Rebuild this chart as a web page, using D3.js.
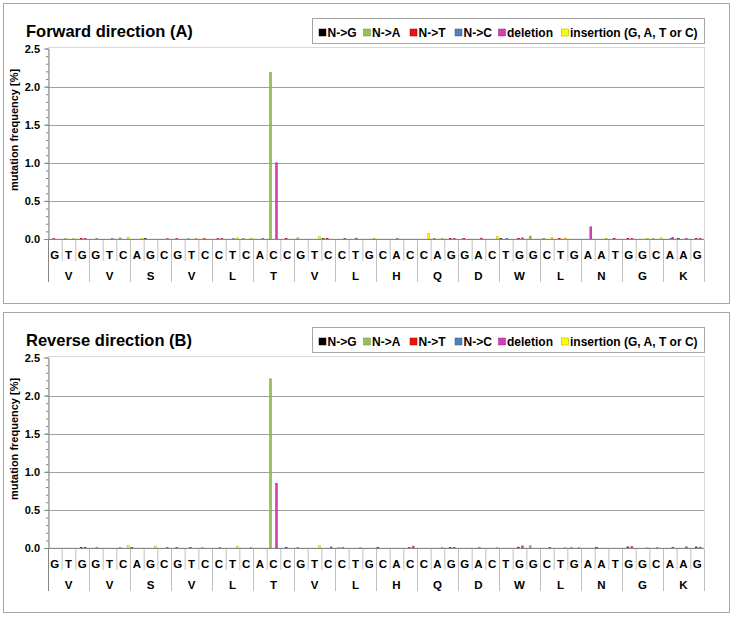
<!DOCTYPE html>
<html><head><meta charset="utf-8">
<script src="https://cdn.jsdelivr.net/npm/d3@7"></script>
<style>
html,body{margin:0;padding:0;background:#fff;}
svg{display:block;font-family:"Liberation Sans",Arial,sans-serif;}
</style></head>
<body><svg id="chart" width="734" height="619"></svg>
<script>
// ---------- data ----------
const nucleotides = ["G","T","G","G","T","C","A","G","C","G","T","C","C","T","C","A","C","C","G","T","C","C","T","G","C","A","C","C","A","G","G","A","C","T","G","G","C","T","G","A","A","T","G","G","C","A","A","G"];
const aminoAcids = ["V","V","S","V","L","T","V","L","H","Q","D","W","L","N","G","K"];
const seriesNames = ["N->G","N->A","N->T","N->C","deletion","insertion (G, A, T or C)"];
const seriesColors = ["#000000","#94c15a","#ee1111","#4f81bd","#d23fb4","#ffff00"];
const seriesStrokes = ["#000000","#6d8f3e","#a00000","#365f8f","#95287f","#a3a300"];
const yTicks = [0,0.5,1.0,1.5,2.0,2.5];
const panelTitles = ["Forward direction (A)","Reverse direction (B)"];
const yLabel = "mutation frequency [%]";

// Forward direction (A)
const fwdNG = [0,0,0,0,0,0,0,0.005,0,0,0,0, 0,0,0,0,0,0,0,0,0.005,0,0,0, 0,0,0,0,0,0,0,0,0,0.005,0,0, 0,0,0,0,0,0,0,0,0,0,0.005,0];
const fwdNA = [0,0.005,0,0,0,0.015,0,0,0,0,0.005,0, 0,0,0.01,0,2.19,0,0.015,0,0,0,0,0, 0,0,0,0,0.01,0,0,0,0,0,0,0.04, 0.01,0,0,0,0,0,0,0,0.005,0,0,0];
const fwdNT = [0.005,0,0.01,0,0,0,0,0,0,0.005,0,0.005, 0.005,0,0,0,0,0.01,0,0,0.01,0,0,0, 0,0,0,0,0,0.01,0.008,0,0,0,0.01,0, 0,0.008,0,0,0,0.01,0.01,0,0,0,0,0.008];
const fwdNC = [0,0,0,0.005,0,0,0,0,0,0,0,0, 0,0.005,0,0,0,0,0,0,0,0,0.012,0, 0,0.005,0,0,0,0,0,0,0,0.008,0,0, 0,0,0,0,0,0,0,0,0,0.005,0,0];
const fwdDel = [0,0,0.01,0,0.005,0,0,0,0.005,0,0,0, 0.008,0,0,0.005,1.0,0,0,0,0,0.008,0,0, 0,0,0,0,0,0.01,0,0.012,0,0,0.015,0, 0,0,0,0.16,0,0,0.01,0,0,0.02,0.008,0.01];
const fwdIns = [0,0.005,0,0,0,0.025,0.005,0,0,0,0.008,0, 0,0.015,0.012,0,0,0,0,0.03,0,0,0,0.008, 0,0,0,0.07,0.012,0,0,0,0.03,0,0,0, 0.02,0.015,0,0,0.01,0,0,0.01,0.015,0,0,0];

// Reverse direction (B)
const revNG = [0,0,0,0,0,0,0.003,0,0,0,0,0, 0,0,0,0,0,0,0,0,0,0,0,0, 0.004,0,0,0,0,0,0,0,0,0,0,0, 0,0,0,0,0.004,0,0,0,0,0,0,0];
const revNA = [0,0,0,0,0,0.008,0,0,0,0,0,0.005, 0,0,0,0,2.22,0,0.01,0,0,0.005,0,0, 0,0,0,0,0,0,0,0,0,0,0,0.03, 0,0,0.008,0,0,0,0,0,0,0,0,0];
const revNT = [0,0,0.01,0,0,0,0,0,0,0.005,0.004,0, 0,0,0,0,0,0.008,0,0,0,0,0,0, 0,0,0.005,0,0,0.01,0,0,0,0,0.012,0, 0,0,0,0,0,0,0.015,0,0,0,0,0.015];
const revNC = [0,0,0,0.004,0,0,0,0,0,0,0,0, 0.004,0,0,0,0,0,0,0,0,0.006,0,0, 0,0,0,0,0,0,0,0.004,0,0,0,0, 0,0,0,0,0,0,0,0,0.004,0,0,0];
const revDel = [0,0,0.012,0,0,0,0,0,0.006,0,0,0, 0,0,0,0,0.85,0,0,0,0.015,0,0,0, 0,0,0.025,0,0,0.008,0,0,0,0,0.028,0, 0.01,0,0,0,0,0,0.02,0,0,0.012,0.015,0.012];
const revIns = [0,0,0,0,0,0.03,0,0.025,0,0,0,0, 0,0.025,0.01,0,0,0,0,0.03,0,0,0.01,0, 0,0,0,0,0.008,0,0,0,0.005,0,0,0, 0,0.006,0.008,0,0,0,0,0.005,0,0,0,0];

const panels = [
  {title: panelTitles[0], series: [fwdNG,fwdNA,fwdNT,fwdNC,fwdDel,fwdIns], off: 0},
  {title: panelTitles[1], series: [revNG,revNA,revNT,revNC,revDel,revIns], off: 309}
];

// ---------- drawing ----------
const svg = d3.select("#chart");
const plotL = 48, plotR = 704;
const legendX = [319, 363.5, 410, 455, 498.5, 561.5];

panels.forEach(p => {
  const g = svg.append("g").attr("transform", `translate(0,${p.off})`);
  // frame
  g.append("rect").attr("x",3.5).attr("y",3.5).attr("width",726).attr("height",300)
    .attr("fill","#fff").attr("stroke","#a6a6a6");
  // title
  g.append("text").attr("x",26).attr("y",37).attr("font-size","16.5px").attr("font-weight","bold")
    .attr("fill","#000").text(p.title);

  const y = d3.scaleLinear().domain([0,2.5]).range([239,48.5]);
  const x = d3.scaleBand().domain(d3.range(nucleotides.length)).range([plotL,plotR]).paddingInner(0).paddingOuter(0);
  const xs = d3.scaleBand().domain(d3.range(seriesNames.length)).range([0,x.bandwidth()]).paddingInner(0).paddingOuter(0.42);

  // plot area border
  g.append("rect").attr("x",plotL+0.5).attr("y",47.5).attr("width",plotR-plotL).attr("height",239-47.5)
    .attr("fill","none").attr("stroke","#d9d9d9");
  // gridlines
  g.append("g").selectAll("line").data(yTicks.filter(t => t>0 && t<2.5)).join("line")
    .attr("x1",plotL).attr("x2",plotR).attr("y1",d=>Math.round(y(d))+0.5).attr("y2",d=>Math.round(y(d))+0.5)
    .attr("stroke","#a0a0a0").attr("stroke-width",1);

  // bars
  p.series.forEach((vals, si) => {
    g.append("g").selectAll("rect").data(vals.map((v,i)=>({i,v})).filter(d=>d.v>0)).join("rect")
      .attr("x", d => x(d.i) + xs(si))
      .attr("width", xs.bandwidth())
      .attr("y", d => y(d.v))
      .attr("height", d => Math.max(0.6, y(0) - y(d.v)))
      .attr("fill", seriesColors[si])
      .attr("stroke", seriesStrokes[si]).attr("stroke-width",0.4);
  });

  // y axis
  const yMinor = g.append("g").attr("transform",`translate(${plotL+0.5},0)`)
    .call(d3.axisLeft(y).ticks(25).tickSize(2.5).tickFormat(""));
  yMinor.select(".domain").remove();
  yMinor.selectAll("line").attr("stroke","#868686");
  const yAxis = g.append("g").attr("transform",`translate(${plotL+0.5},0)`)
    .call(d3.axisLeft(y).tickValues(yTicks).tickFormat(d3.format(".1f")).tickSizeInner(4.5).tickSizeOuter(0).tickPadding(4));
  yAxis.select(".domain").attr("stroke","#868686");
  yAxis.selectAll("line").attr("stroke","#868686");
  yAxis.selectAll("text").attr("font-size","11px").attr("font-weight","bold").attr("fill","#000")
    .attr("font-family","Liberation Sans, Arial, sans-serif");

  // baseline
  g.append("line").attr("x1",plotL).attr("x2",plotR).attr("y1",239.5).attr("y2",239.5).attr("stroke","#868686");

  // y label
  g.append("text").attr("transform","translate(18,130) rotate(-90)").attr("text-anchor","middle")
    .attr("font-size","11px").attr("font-weight","bold").text(yLabel);

  // category separators
  g.append("g").selectAll("line").data(d3.range(nucleotides.length+1)).join("line")
    .attr("x1", i => (i<nucleotides.length ? x(i) : plotR) + 0.5)
    .attr("x2", i => (i<nucleotides.length ? x(i) : plotR) + 0.5)
    .attr("y1", 240).attr("y2", i => i%3===0 ? 282 : 261)
    .attr("stroke", i => i===0 ? "#868686" : "#c0c0c0");
  // nucleotide labels
  g.append("g").selectAll("text").data(nucleotides).join("text")
    .attr("x",(d,i)=>x(i)+x.bandwidth()/2).attr("y",259).attr("text-anchor","middle")
    .attr("font-size","11.5px").attr("font-weight","bold").text(d=>d);
  // amino acid labels
  g.append("g").selectAll("text").data(aminoAcids).join("text")
    .attr("x",(d,i)=>x(i*3)+x.bandwidth()*1.5).attr("y",280).attr("text-anchor","middle")
    .attr("font-size","11.5px").attr("font-weight","bold").text(d=>d);

  // legend
  g.append("rect").attr("x",312.5).attr("y",18.5).attr("width",392).attr("height",25)
    .attr("fill","#fff").attr("stroke","#a6a6a6");
  seriesNames.forEach((name, si) => {
    g.append("rect").attr("x",legendX[si]).attr("y",29).attr("width",7).attr("height",7)
      .attr("fill",seriesColors[si]).attr("stroke",seriesStrokes[si]).attr("stroke-width",0.5);
    g.append("text").attr("x",legendX[si]+8.5).attr("y",36.5).attr("font-size","12px").attr("font-weight","bold")
      .text(name);
  });
});
</script></body></html>
